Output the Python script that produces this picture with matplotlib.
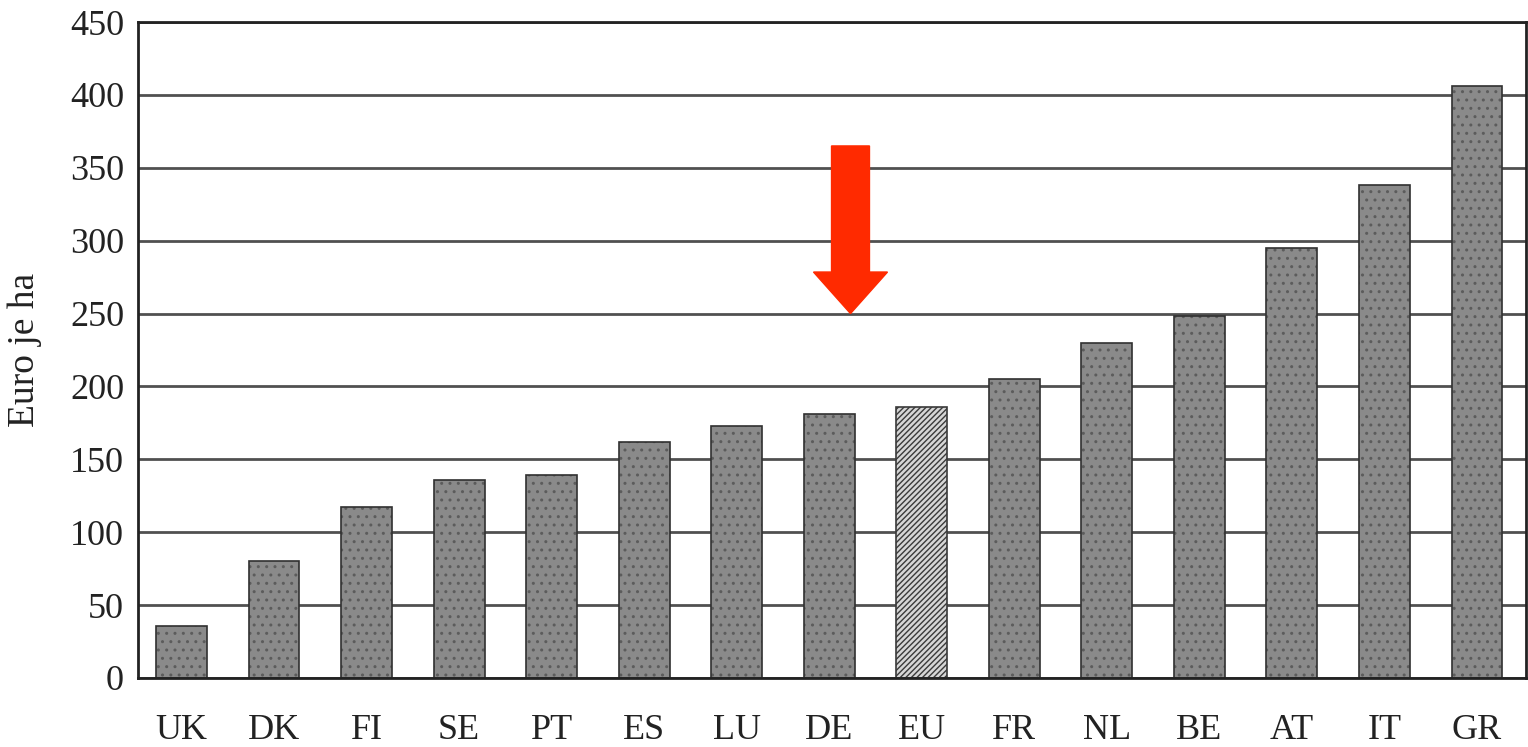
import matplotlib
matplotlib.use("Agg")
import matplotlib.pyplot as plt
from matplotlib.patches import FancyArrow

countries = ["UK", "DK", "FI", "SE", "PT", "ES", "LU", "DE", "EU", "FR", "NL", "BE", "AT", "IT", "GR"]
values = [36, 80, 117, 136, 139, 162, 173, 181, 186, 205, 230, 248, 295, 338, 406]
yticks = [0, 50, 100, 150, 200, 250, 300, 350, 400, 450]
ylabel = "Euro je ha"

plt.rcParams['font.family'] = ['Liberation Serif', 'DejaVu Serif']
plt.rcParams['hatch.linewidth'] = 1.0

fig = plt.figure(figsize=(15.28, 7.47), dpi=100)
ax = fig.add_axes([0.0903, 0.0924, 0.9084, 0.8781])

x = list(range(len(countries)))
bars = ax.bar(x, values, width=0.55, color="#8a8a8a", edgecolor="#303030",
              linewidth=1.2, hatch="..", zorder=2)
for b, c in zip(bars, countries):
    if c == "EU":
        b.set_facecolor("#d6d6d6")
        b.set_hatch("//////")
        b.set_edgecolor("#3a3a3a")
    else:
        b._hatch_color = (0.36, 0.36, 0.36, 1.0)

ax.set_xlim(-0.47, 14.53)
ax.set_ylim(0, 450)
ax.set_yticks(yticks)
ax.set_yticklabels([str(v) for v in yticks])
ax.set_xticks(x)
ax.set_xticklabels(countries)
ax.tick_params(axis="both", length=0, labelsize=26, colors="#222222")
ax.tick_params(axis="y", pad=10)
ax.tick_params(axis="x", pad=26)

ax.yaxis.grid(True, color="#505050", linewidth=2.0, zorder=0)
ax.set_axisbelow(True)
for s in ax.spines.values():
    s.set_color("#222222")
    s.set_linewidth(2.0)

ax.set_ylabel(ylabel, fontsize=27, color="#222222")
ax.yaxis.set_label_coords(-0.069, 0.5)

arrow = FancyArrow(7.23, 365, 0, -115, width=0.41, head_width=0.8,
                   head_length=28.5, length_includes_head=True,
                   color="#ff2a00", zorder=5)
ax.add_patch(arrow)

fig.savefig("out.png", dpi=100, facecolor="white")
